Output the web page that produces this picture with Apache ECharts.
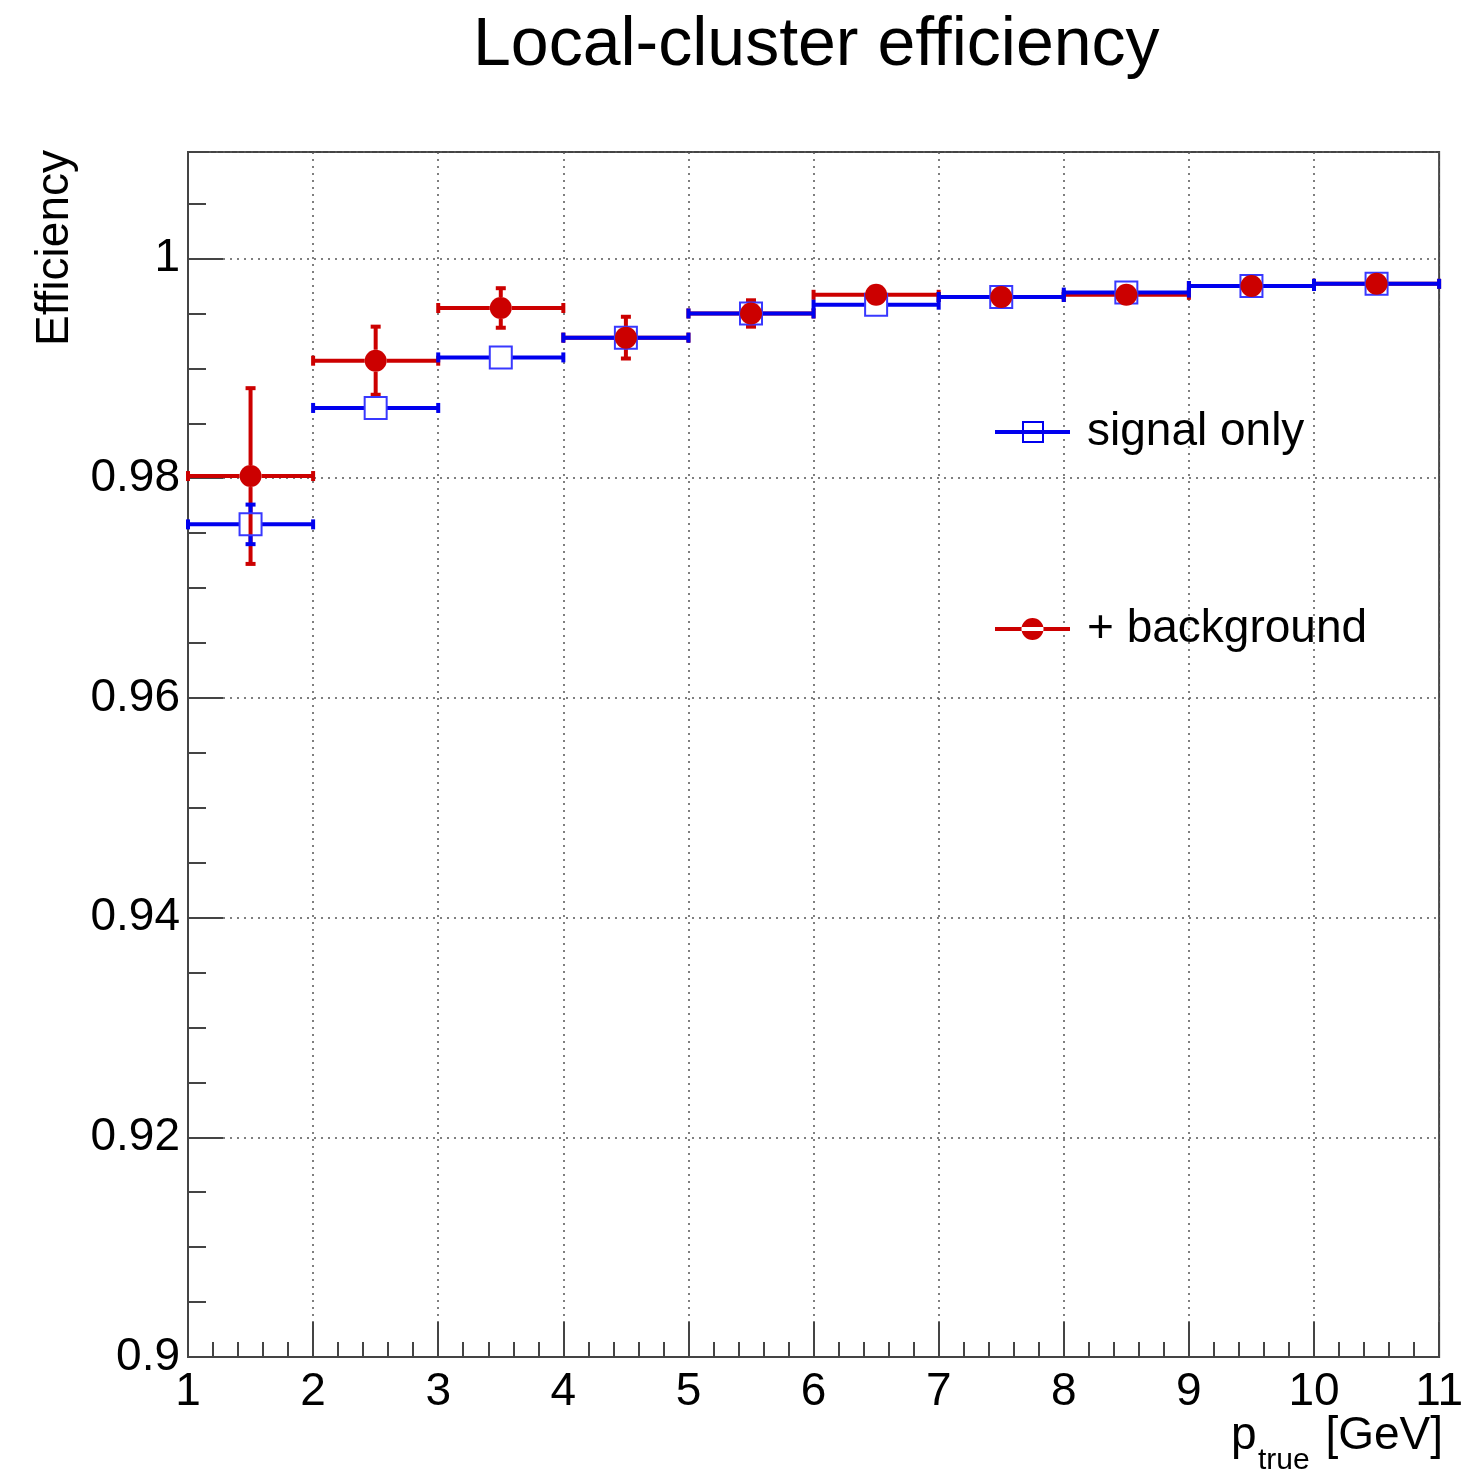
<!DOCTYPE html>
<html>
<head>
<meta charset="utf-8">
<title>Local-cluster efficiency</title>
<script src="https://cdn.jsdelivr.net/npm/echarts@6/dist/echarts.min.js"></script>
<style>
  html, body { margin: 0; padding: 0; background: #fff; overflow: hidden; }
  #chart { position: fixed; left: 0; top: 0; width: 1466px; height: 1472px; }
</style>
</head>
<body>
<div id="chart"></div>
<script>
// p_true bins (GeV): centres and half widths
const binCenters = [1.5, 2.5, 3.5, 4.5, 5.5, 6.5, 7.5, 8.5, 9.5, 10.5];
const binHalfWidth = [0.5, 0.5, 0.5, 0.5, 0.5, 0.5, 0.5, 0.5, 0.5, 0.5];

// efficiency, signal only
const signalEff = [0.9758, 0.9864, 0.9910, 0.9928, 0.9950, 0.9958, 0.9965, 0.9969, 0.9975, 0.9977];
const signalErr = [0.0018, 0.0005, 0.0004, 0.0004, 0.0003, 0.0003, 0.0002, 0.0002, 0.0002, 0.0002];

// efficiency, signal + background
const bkgEff = [0.9802, 0.9907, 0.9955, 0.9928, 0.9950, 0.9967, 0.9965, 0.9967, 0.9975, 0.9977];
const bkgErr = [0.0080, 0.0031, 0.0018, 0.0019, 0.0012, 0.0006, 0.0004, 0.0004, 0.0003, 0.0003];

const yTickValues = [0.9, 0.92, 0.94, 0.96, 0.98, 1.0];

const FONT = "'Liberation Sans', Arial, Helvetica, sans-serif";
const BLUE = '#0000ee';
const RED = '#cc0000';
const MARKER = 22;
const CAP = 5;

function toErrData(eff, err) {
  return binCenters.map((x, i) => [x, eff[i], binHalfWidth[i], err[i]]);
}
function toPoints(eff) {
  return binCenters.map((x, i) => [x, eff[i]]);
}

// error bars drawn like ROOT's "E1": bars stop at the marker edge, small caps at the ends
function errorBars(color) {
  return function (params, api) {
    const x = api.value(0), y = api.value(1), xe = api.value(2), ye = api.value(3);
    const c = api.coord([x, y]);
    const l = api.coord([x - xe, y]);
    const r = api.coord([x + xe, y]);
    const t = api.coord([x, y + ye]);
    const b = api.coord([x, y - ye]);
    const h = MARKER / 2;
    const style = { stroke: color, lineWidth: 4 };
    const children = [];
    const seg = (x1, y1, x2, y2) =>
      children.push({ type: 'line', shape: { x1, y1, x2, y2 }, style });
    seg(l[0], c[1], c[0] - h, c[1]);
    seg(c[0] + h, c[1], r[0], c[1]);
    seg(l[0], c[1] - CAP, l[0], c[1] + CAP);
    seg(r[0], c[1] - CAP, r[0], c[1] + CAP);
    if (c[1] - t[1] > h) {
      seg(c[0], c[1] - h, c[0], t[1]);
      seg(c[0] - CAP, t[1], c[0] + CAP, t[1]);
    }
    if (b[1] - c[1] > h) {
      seg(c[0], c[1] + h, c[0], b[1]);
      seg(c[0] - CAP, b[1], c[0] + CAP, b[1]);
    }
    return { type: 'group', children };
  };
}

const chart = echarts.init(document.getElementById('chart'), null, { renderer: 'canvas', width: 1466, height: 1472 });

const gridLine = { show: true, lineStyle: { color: '#555', width: 1.5, type: [2, 5] } };
const Y_MIN = 0.9;
const Y_MAX = 1.0097;

const option = {
  backgroundColor: '#fff',
  animation: false,
  textStyle: { fontFamily: FONT },
  title: {
    text: 'Local-cluster efficiency',
    left: 468,
    top: 7,
    textStyle: { fontFamily: FONT, fontSize: 68, fontWeight: 'normal', color: '#000' }
  },
  grid: {
    left: 188, right: 22, top: 152, bottom: 115,
    show: true, borderColor: '#444', borderWidth: 2, backgroundColor: 'transparent'
  },
  legend: {
    orient: 'vertical',
    left: 990,
    top: 404,
    itemWidth: 75,
    itemHeight: 22,
    itemGap: 151,
    selectedMode: false,
    textStyle: { fontFamily: FONT, fontSize: 46, color: '#000', lineHeight: 46, padding: [0, 0, 0, 12] },
    data: [
      {
        name: 'signal only',
        icon: 'path://M0 9H75V13H0Z M27 0H49V22H27Z M29 2V20H47V2Z',
        itemStyle: { color: BLUE, borderWidth: 0 }
      },
      {
        name: '+ background',
        icon: 'path://M0 9H75V13H0Z M26.5 11A11 11 0 1 0 48.5 11A11 11 0 1 0 26.5 11Z',
        itemStyle: { color: RED, borderWidth: 0 }
      }
    ]
  },
  xAxis: {
    type: 'value',
    min: 1, max: 11, interval: 1,
    axisLine: { show: true, lineStyle: { color: '#444', width: 2 } },
    axisTick: { show: true, inside: true, length: 35, lineStyle: { color: '#444', width: 2 } },
    minorTick: { show: true, splitNumber: 5, length: 15, lineStyle: { color: '#444', width: 2 } },
    axisLabel: { fontFamily: FONT, fontSize: 46, color: '#000', margin: 12 },
    splitLine: gridLine
  },
  yAxis: [
    {
      type: 'value',
      min: Y_MIN, max: Y_MAX, interval: 0.02,
      axisLine: { show: true, lineStyle: { color: '#444', width: 2 } },
      axisTick: { show: true, inside: true, length: 35, lineStyle: { color: '#444', width: 2 } },
      axisLabel: {
        fontFamily: FONT, fontSize: 46, color: '#000', margin: 8,
        showMaxLabel: false,
        formatter: v => (yTickValues.some(t => Math.abs(t - v) < 1e-9) ? String(+v.toFixed(2)) : '')
      },
      splitLine: gridLine
    },
    {
      // short ticks every 0.005
      type: 'value',
      min: Y_MIN, max: Y_MAX, interval: 0.005,
      position: 'left',
      axisLine: { show: false },
      axisTick: { show: true, inside: true, length: 18, lineStyle: { color: '#444', width: 2 } },
      axisLabel: { show: false },
      splitLine: { show: false }
    }
  ],
  series: [
    {
      name: '+ background',
      type: 'custom',
      renderItem: errorBars(RED),
      encode: { x: 0, y: 1 },
      data: toErrData(bkgEff, bkgErr)
    },
    {
      name: 'signal only',
      type: 'custom',
      renderItem: errorBars(BLUE),
      encode: { x: 0, y: 1 },
      data: toErrData(signalEff, signalErr)
    },
    {
      name: 'signal only',
      type: 'scatter',
      symbol: 'rect',
      symbolSize: MARKER,
      itemStyle: { color: 'rgba(0,0,0,0)', borderColor: '#3838ff', borderWidth: 2, opacity: 1 },
      data: toPoints(signalEff)
    },
    {
      name: '+ background',
      type: 'scatter',
      symbol: 'circle',
      symbolSize: MARKER,
      itemStyle: { color: RED, opacity: 1 },
      data: toPoints(bkgEff)
    }
  ],
  graphic: [
    {
      type: 'text',
      x: 55, y: 150,
      rotation: Math.PI / 2,
      style: { text: 'Efficiency', font: `46px ${FONT}`, fill: '#000', textAlign: 'right', textVerticalAlign: 'middle' }
    },
    {
      type: 'text',
      x: 1443, y: 1436,
      style: { text: '[GeV]', font: `46px ${FONT}`, fill: '#000', textAlign: 'right', textVerticalAlign: 'middle' }
    },
    {
      type: 'text',
      x: 1258, y: 1461,
      style: { text: 'true', font: `30px ${FONT}`, fill: '#000', textAlign: 'left', textVerticalAlign: 'middle' }
    },
    {
      type: 'text',
      x: 1231, y: 1436,
      style: { text: 'p', font: `46px ${FONT}`, fill: '#000', textAlign: 'left', textVerticalAlign: 'middle' }
    }
  ]
};

chart.setOption(option);
</script>
</body>
</html>
